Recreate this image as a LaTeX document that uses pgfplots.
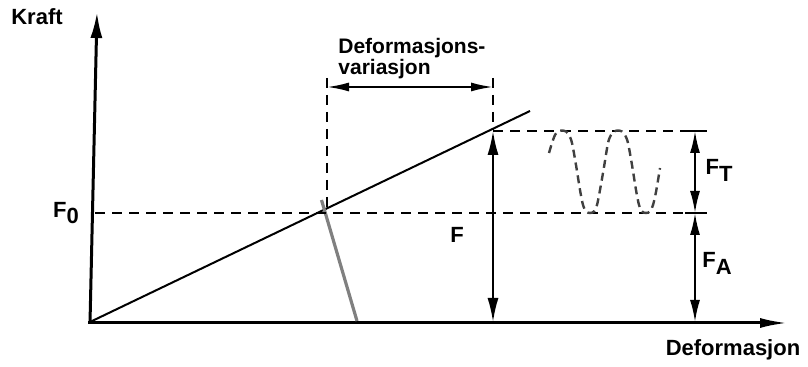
\documentclass[border=0pt]{standalone}
\usepackage{pgfplots}
\pgfplotsset{compat=1.18}
\usetikzlibrary{arrows.meta}
\usepackage{fontspec}
\setmainfont{Liberation Sans}
\begin{document}
\begin{tikzpicture}
\begin{axis}[
  width=404pt, height=181.5pt, scale only axis,
  xmin=0, xmax=808, ymin=0, ymax=363, y dir=reverse,
  axis lines=none, clip=false,
  every axis plot/.append style={line cap=butt},
]
\path (rel axis cs:0,0) rectangle (rel axis cs:1,1);
% axes
\addplot[line width=1.5pt, -{Latex[length=13pt,width=6pt]}] coordinates {(90,323) (97,12)};
\addplot[line width=1.5pt, -{Latex[length=14pt,width=5pt]}] coordinates {(88,323) (788,323)};
% characteristic line
\addplot[line width=1pt] coordinates {(90,322) (530,111)};
% clamped parts line (gray)
\addplot[line width=1.6pt, gray] coordinates {(321.5,200) (357,321)};
% dashed helper lines
\addplot[line width=1.1pt, dash pattern=on 5pt off 3.5pt] coordinates {(95,213) (705,213)};
\addplot[line width=1.1pt, dash pattern=on 5pt off 3.5pt] coordinates {(493,131) (705,131)};
\addplot[line width=1.1pt, dash pattern=on 5pt off 3.5pt] coordinates {(327,78) (327,212)};
\addplot[line width=1.1pt, dash pattern=on 5pt off 3.5pt] coordinates {(493,78) (493,130)};
% dimension arrow
\addplot[line width=1pt, {Latex[length=11pt,width=4.5pt]}-{Latex[length=11pt,width=4.5pt]}] coordinates {(327,87) (493,87)};
% F arrow
\addplot[line width=1pt, {Latex[length=12pt,width=5.5pt]}-{Latex[length=12pt,width=5.5pt]}] coordinates {(493,131) (493,322)};
% F_T and F_A arrows
\addplot[line width=1pt, {Latex[length=11pt,width=5pt]}-{Latex[length=11pt,width=5pt]}] coordinates {(695,131) (695,213)};
\addplot[line width=1pt, {Latex[length=11pt,width=5pt]}-{Latex[length=11pt,width=5pt]}] coordinates {(695,213) (695,322)};
\addplot[line width=1pt] coordinates {(685,131) (707,131)};
\addplot[line width=1pt] coordinates {(685,213) (707,213)};
% wave
\addplot[line width=1.2pt, black!75, smooth, dash pattern=on 4pt off 2.5pt] coordinates {
(549,153.0) (552,143.0) (555,135.0) (558,131.5) (562,130.5) (566,131.5) (569,135.0) (572,143.0) (576,165)
(580,190.0) (583,205.0) (586,211.5) (590,213.0) (594,211.5) (597,205.0) (600,190.0) (604,167)
(608,143.0) (611,135.0) (614,131.5) (618,130.5) (622,131.5) (625,135.0) (628,143.0) (632,165)
(636,190.0) (639,205.0) (642,211.5) (646,213.0) (650,211.5) (653,205.0) (656,192.0) (660,168)};
% labels
\node[font=\bfseries\fontsize{11}{12}\selectfont] at (axis cs:37,17) {Kraft};
\node[font=\bfseries\fontsize{10.5}{12}\selectfont, anchor=west, inner sep=0pt] at (axis cs:338,48) {Deformasjons-};
\node[font=\bfseries\fontsize{10.5}{12}\selectfont, anchor=west, inner sep=0pt] at (axis cs:338,69) {variasjon};
\node[font=\bfseries\fontsize{11}{12}\selectfont] at (axis cs:733,350) {Deformasjon};
\node[font=\bfseries\fontsize{11}{12}\selectfont] at (axis cs:66,213) {F\raisebox{-0.45ex}{0}};
\node[font=\bfseries\fontsize{11}{12}\selectfont] at (axis cs:457,235) {F};
\node[font=\bfseries\fontsize{11}{12}\selectfont] at (axis cs:719,170) {F\raisebox{-0.6ex}{T}};
\node[font=\bfseries\fontsize{11}{12}\selectfont] at (axis cs:717,263) {F\raisebox{-0.6ex}{A}};
\end{axis}
\end{tikzpicture}
\end{document}
